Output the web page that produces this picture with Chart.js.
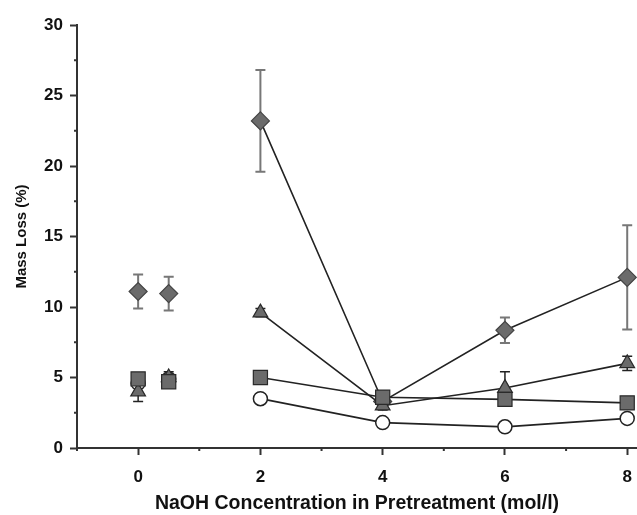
<!DOCTYPE html>
<html>
<head>
<meta charset="utf-8">
<script src="https://cdn.jsdelivr.net/npm/chart.js@4/dist/chart.umd.min.js"></script>
<style>
  html, body { margin: 0; padding: 0; background: #fff; }
  #wrap { width: 637px; height: 515px; }
</style>
</head>
<body>
<div id="wrap"><canvas id="c" width="637" height="515"></canvas></div>
<script>
// NaOH concentration (mol/l)
const concentrations = [0, 0.5, 2, 4, 6, 8];
// Mass loss (%) per series
const diamondValues  = [11.1, 10.95, 23.2, 3.3, 8.35, 12.1];
const diamondErrors  = [1.2, 1.2, 3.6, 0.3, 0.9, 3.7];
const triangleValues = [4.0, 5.0, 9.6, 3.0, 4.25, 6.0];
const triangleErrors = [0.7, 0.4, 0.3, 0.3, 1.15, 0.5];
const squareValues   = [4.9, 4.7, 5.0, 3.6, 3.45, 3.2];
const squareErrors   = [0.3, 0.3, 0.2, 0.4, 0.35, 0.25];
const circleValues   = [4.6, 4.9, 3.5, 1.8, 1.5, 2.1];
const circleErrors   = [0.2, 0.3, 0.2, 0.25, 0.2, 0.2];
const xTickLabels = ['0', '2', '4', '6', '8'];
const yTickLabels = ['0', '5', '10', '15', '20', '25', '30'];

function pts(vals) { return concentrations.map((x, i) => ({ x: x, y: vals[i] })); }

const lineSeg = {
  borderColor: ctx => ctx.p0.parsed.x < 1.5 ? 'rgba(0,0,0,0)' : '#222'
};

const errorBars = {
  id: 'errorBars',
  beforeDatasetsDraw(chart) {
    const ctx = chart.ctx;
    const ys = chart.scales.y, xs = chart.scales.x;
    chart.data.datasets.forEach(ds => {
      const errs = ds.errors;
      if (!errs) return;
      ctx.save();
      ctx.strokeStyle = ds.errorColor;
      ctx.lineWidth = ds.errorWidth;
      ds.data.forEach((p, i) => {
        const e = errs[i];
        if (!e) return;
        const px = xs.getPixelForValue(p.x);
        const top = ys.getPixelForValue(p.y + e);
        const bot = ys.getPixelForValue(p.y - e);
        ctx.beginPath();
        ctx.moveTo(px, top); ctx.lineTo(px, bot);
        ctx.moveTo(px - 5, top); ctx.lineTo(px + 5, top);
        ctx.moveTo(px - 5, bot); ctx.lineTo(px + 5, bot);
        ctx.stroke();
      });
      ctx.restore();
    });
  }
};

const minorTicks = {
  id: 'minorTicks',
  afterDraw(chart) {
    const ctx = chart.ctx;
    const xs = chart.scales.x, ys = chart.scales.y;
    ctx.save();
    ctx.strokeStyle = '#333';
    ctx.lineWidth = 2;
    ctx.beginPath();
    for (let v = Math.ceil(xs.min); v <= xs.max; v += 1) {
      if (v % 2 !== 0) {
        const px = xs.getPixelForValue(v);
        ctx.moveTo(px, xs.top); ctx.lineTo(px, xs.top + 3);
      }
    }
    for (let v = 2.5; v < ys.max; v += 5) {
      const py = ys.getPixelForValue(v);
      ctx.moveTo(ys.right, py); ctx.lineTo(ys.right - 3, py);
    }
    ctx.stroke();
    ctx.restore();
  }
};

const fontTick = { family: 'Liberation Sans', size: 17, weight: 'bold' };
const fontXTitle = { family: 'Liberation Sans', size: 19.5, weight: 'bold' };
const fontYTitle = { family: 'Liberation Sans', size: 15, weight: 'bold' };

new Chart(document.getElementById('c'), {
  type: 'line',
  data: {
    datasets: [
      {
        label: 'square', data: pts(squareValues), errors: squareErrors,
        errorColor: '#111', errorWidth: 1.5,
        pointStyle: 'rect', pointRadius: 10, pointBackgroundColor: '#6b6b6b',
        pointBorderColor: '#2a2a2a', pointBorderWidth: 1.2,
        borderColor: '#222', borderWidth: 1.6, segment: lineSeg, order: 0
      },
      {
        label: 'triangle', data: pts(triangleValues), errors: triangleErrors,
        errorColor: '#222', errorWidth: 1.5,
        pointStyle: 'triangle', pointRadius: 8.5, pointBackgroundColor: '#6b6b6b',
        pointBorderColor: '#2a2a2a', pointBorderWidth: 1.2,
        borderColor: '#222', borderWidth: 1.6, segment: lineSeg, order: 1
      },
      {
        label: 'diamond', data: pts(diamondValues), errors: diamondErrors,
        errorColor: '#777', errorWidth: 2,
        pointStyle: 'rectRot', pointRadius: 9, pointBackgroundColor: '#6b6b6b',
        pointBorderColor: '#444', pointBorderWidth: 1.2,
        borderColor: '#222', borderWidth: 1.6, segment: lineSeg, order: 2
      },
      {
        label: 'circle', data: pts(circleValues), errors: circleErrors,
        errorColor: '#222', errorWidth: 1.5,
        pointStyle: 'circle', pointRadius: 7, pointBackgroundColor: '#fff',
        pointBorderColor: '#222', pointBorderWidth: 1.5,
        borderColor: '#222', borderWidth: 1.6, segment: lineSeg, order: 3
      }
    ]
  },
  options: {
    responsive: false,
    animation: false,
    layout: { autoPadding: false, padding: { top: 25, right: 0, left: 0, bottom: 0 } },
    plugins: { legend: { display: false }, tooltip: { enabled: false } },
    scales: {
      x: {
        type: 'linear', min: -1, max: 8.16,
        afterBuildTicks: s => { s.ticks = xTickLabels.map(t => ({ value: Number(t) })); },
        ticks: { font: fontTick, color: '#111', padding: 12, callback: v => String(v), maxRotation: 0, autoSkip: false },
        grid: { drawOnChartArea: false, drawTicks: true, tickLength: 7, tickColor: '#333', tickWidth: 2 },
        border: { display: true, color: '#333', width: 2 },
        title: { display: true, text: 'NaOH Concentration in Pretreatment (mol/l)', font: fontXTitle, color: '#111', padding: { top: 2, bottom: 0 } },
        afterFit: s => { s.height = 67; s.paddingLeft = 0; s.paddingRight = 0; }
      },
      y: {
        type: 'linear', min: 0, max: 30,
        afterBuildTicks: s => { s.ticks = yTickLabels.map(t => ({ value: Number(t) })); },
        ticks: { font: fontTick, color: '#111', padding: 7, callback: v => String(v), autoSkip: false },
        grid: { drawOnChartArea: false, drawTicks: true, tickLength: 7, tickColor: '#333', tickWidth: 2 },
        border: { display: true, color: '#333', width: 2 },
        title: { display: true, text: 'Mass Loss (%)', font: fontYTitle, color: '#111', padding: { top: 13, bottom: 4 } },
        afterFit: s => { s.width = 77; s.paddingTop = 0; s.paddingBottom = 0; }
      }
    }
  },
  plugins: [errorBars, minorTicks]
});
</script>
</body>
</html>
